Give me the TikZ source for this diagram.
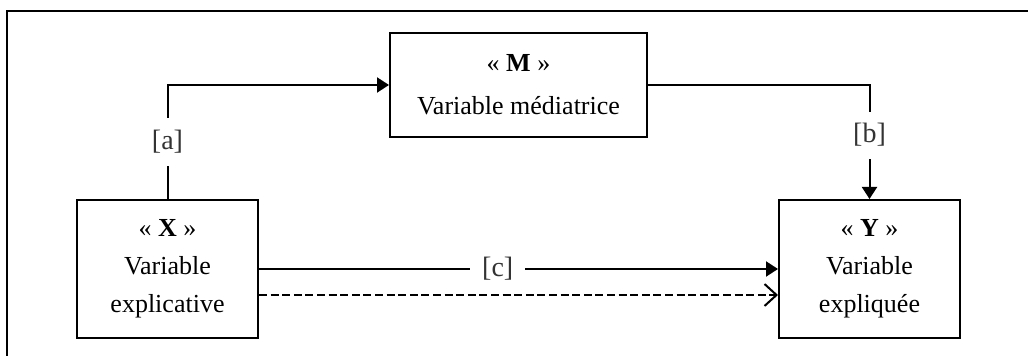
\documentclass[tikz,border=0pt]{standalone}
\usepackage{fontspec}
\setmainfont{Liberation Serif}
\usetikzlibrary{arrows.meta, positioning}

\tikzset{
    varbox/.style={draw, line width=1pt, align=center, inner sep=0pt, font=\fontsize{13}{19}\selectfont},
    pathlabel/.style={fill=white, text=black!80, inner sep=6pt, font=\fontsize{14}{16}\selectfont},
    effect/.style={line width=1pt, -{Triangle[length=6pt, width=7.5pt]}},
    direct/.style={line width=1.1pt, dash pattern=on 4pt off 1.8pt, -{Straight Barb[length=6pt, width=11pt, line width=1pt]}}
}

\begin{document}
\begin{tikzpicture}[x=0.5pt, y=-0.5pt]
                        \useasboundingbox (0, 0) rectangle (1028, 356);
                        \draw[line width=1.2pt] (7, 356) -- (7, 11) -- (1028, 11);
                        \node[varbox, minimum width=90.5pt, minimum height=69pt] (X) at (167.5, 269) {« \textbf{X} »\\ Variable\\ explicative};
                        \node[varbox, minimum width=128.5pt, minimum height=52pt] (M) at (518.5, 85) {« \textbf{M} »\\[2.5pt] Variable médiatrice};
                        \node[varbox, minimum width=90.5pt, minimum height=69pt] (Y) at (869.5, 269) {« \textbf{Y} »\\ Variable\\ expliquée};
                        \draw[effect] (X.north) |- node[pathlabel, pos=0.25] {[a]} (M.west);
                        \draw[effect] (M.east) -| node[pathlabel, pos=0.72] {[b]} (Y.north);
                        \draw[effect] (X.east) -- node[pathlabel, pos=0.46] {[c]} (Y.west);
                        \draw[direct] ([yshift=-13pt]X.east) -- ([yshift=-13pt]Y.west);
                    \end{tikzpicture}
\end{document}
